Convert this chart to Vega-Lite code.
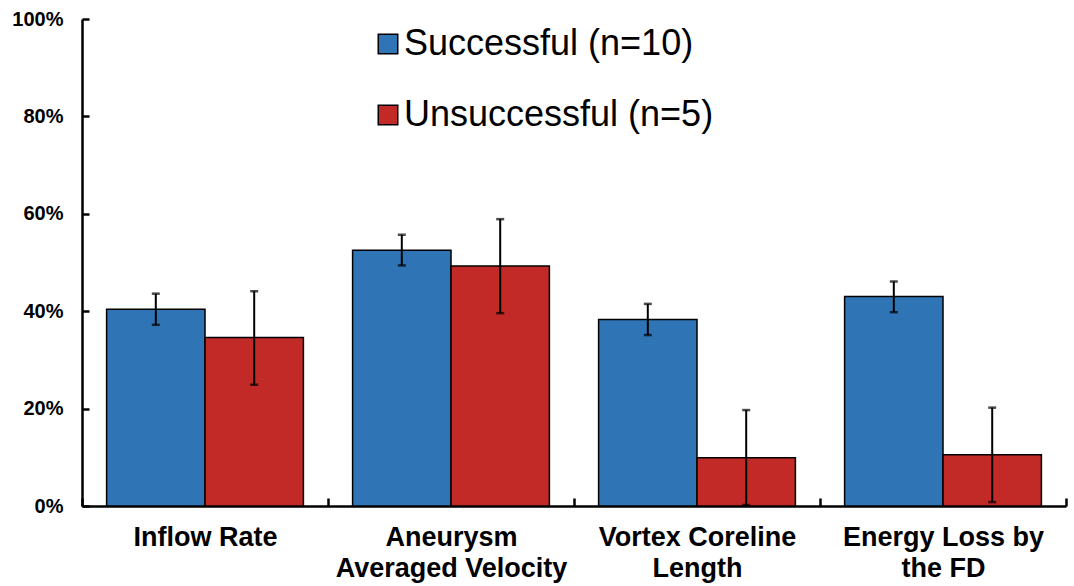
{
  "$schema": "https://vega.github.io/schema/vega-lite/v6.json",
  "autosize": "none",
  "padding": {"left": 82, "top": 19, "right": 8, "bottom": 80},
  "width": 984,
  "height": 487,
  "background": "white",
  "data": {
    "values": [
      {"measure": "Inflow Rate", "group": "Successful (n=10)", "value": 40.4, "low": 37.2, "high": 43.6},
      {"measure": "Inflow Rate", "group": "Unsuccessful (n=5)", "value": 34.6, "low": 24.9, "high": 44.1},
      {"measure": "Aneurysm Averaged Velocity", "group": "Successful (n=10)", "value": 52.5, "low": 49.4, "high": 55.7},
      {"measure": "Aneurysm Averaged Velocity", "group": "Unsuccessful (n=5)", "value": 49.3, "low": 39.6, "high": 58.9},
      {"measure": "Vortex Coreline Length", "group": "Successful (n=10)", "value": 38.3, "low": 35.1, "high": 41.5},
      {"measure": "Vortex Coreline Length", "group": "Unsuccessful (n=5)", "value": 9.9, "low": 0.2, "high": 19.7},
      {"measure": "Energy Loss by the FD", "group": "Successful (n=10)", "value": 43.0, "low": 39.8, "high": 46.1},
      {"measure": "Energy Loss by the FD", "group": "Unsuccessful (n=5)", "value": 10.5, "low": 0.8, "high": 20.2}
    ]
  },
  "encoding": {
    "x": {
      "field": "measure",
      "type": "nominal",
      "sort": null,
      "scale": {"paddingInner": 0, "paddingOuter": 0},
      "axis": {
        "title": null,
        "labelAngle": 0,
        "labelFont": "Liberation Sans",
        "labelFontWeight": "bold",
        "labelFontSize": 27,
        "labelColor": "black",
        "labelPadding": 26,
        "labelLineHeight": 31,
        "labelLimit": 400,
        "labelExpr": "datum.label == 'Aneurysm Averaged Velocity' ? ['Aneurysm', 'Averaged Velocity'] : datum.label == 'Vortex Coreline Length' ? ['Vortex Coreline', 'Length'] : datum.label == 'Energy Loss by the FD' ? ['Energy Loss by', 'the FD'] : datum.label",
        "tickBand": "extent",
        "tickSize": -8,
        "tickWidth": 2.5,
        "tickColor": "black",
        "domainColor": "black",
        "domainWidth": 2.5,
        "grid": false
      }
    },
    "xOffset": {"field": "group", "type": "nominal", "scale": {"paddingInner": 0, "paddingOuter": 0.25}}
  },
  "layer": [
    {
      "mark": {"type": "bar", "stroke": "black", "strokeWidth": 1.5},
      "encoding": {
        "y": {
          "field": "value",
          "type": "quantitative",
          "scale": {"domain": [0, 100], "nice": false},
          "axis": {
            "title": null,
            "values": [0, 20, 40, 60, 80, 100],
            "labelExpr": "datum.value + '%'",
            "labelFont": "Liberation Sans",
            "labelFontWeight": "bold",
            "labelFontSize": 20,
            "labelColor": "black",
            "labelPadding": 26,
            "tickSize": -7,
            "tickWidth": 2.5,
            "tickColor": "black",
            "domainColor": "black",
            "domainWidth": 2.5,
            "grid": false
          }
        },
        "fill": {
          "field": "group",
          "type": "nominal",
          "scale": {"range": ["#2F75B5", "#C12A27"]},
          "legend": {
            "title": null,
            "orient": "none",
            "legendX": 288,
            "legendY": 7,
            "symbolType": "square",
            "symbolSize": 380,
            "symbolStrokeColor": "black",
            "symbolStrokeWidth": 1.5,
            "labelFont": "Liberation Sans",
            "labelFontSize": 36,
            "labelColor": "black",
            "labelLimit": 500,
            "labelOffset": -2,
            "rowPadding": 35
          }
        }
      }
    },
    {
      "mark": {"type": "rule", "color": "black", "strokeWidth": 2},
      "encoding": {
        "y": {"field": "low", "type": "quantitative"},
        "y2": {"field": "high"}
      }
    },
    {
      "mark": {"type": "tick", "color": "black", "thickness": 2.5, "size": 8, "orient": "horizontal"},
      "encoding": {
        "y": {"field": "low", "type": "quantitative"}
      }
    },
    {
      "mark": {"type": "tick", "color": "black", "thickness": 2.5, "size": 8, "orient": "horizontal"},
      "encoding": {
        "y": {"field": "high", "type": "quantitative"}
      }
    }
  ],
  "config": {"view": {"stroke": null}}
}
